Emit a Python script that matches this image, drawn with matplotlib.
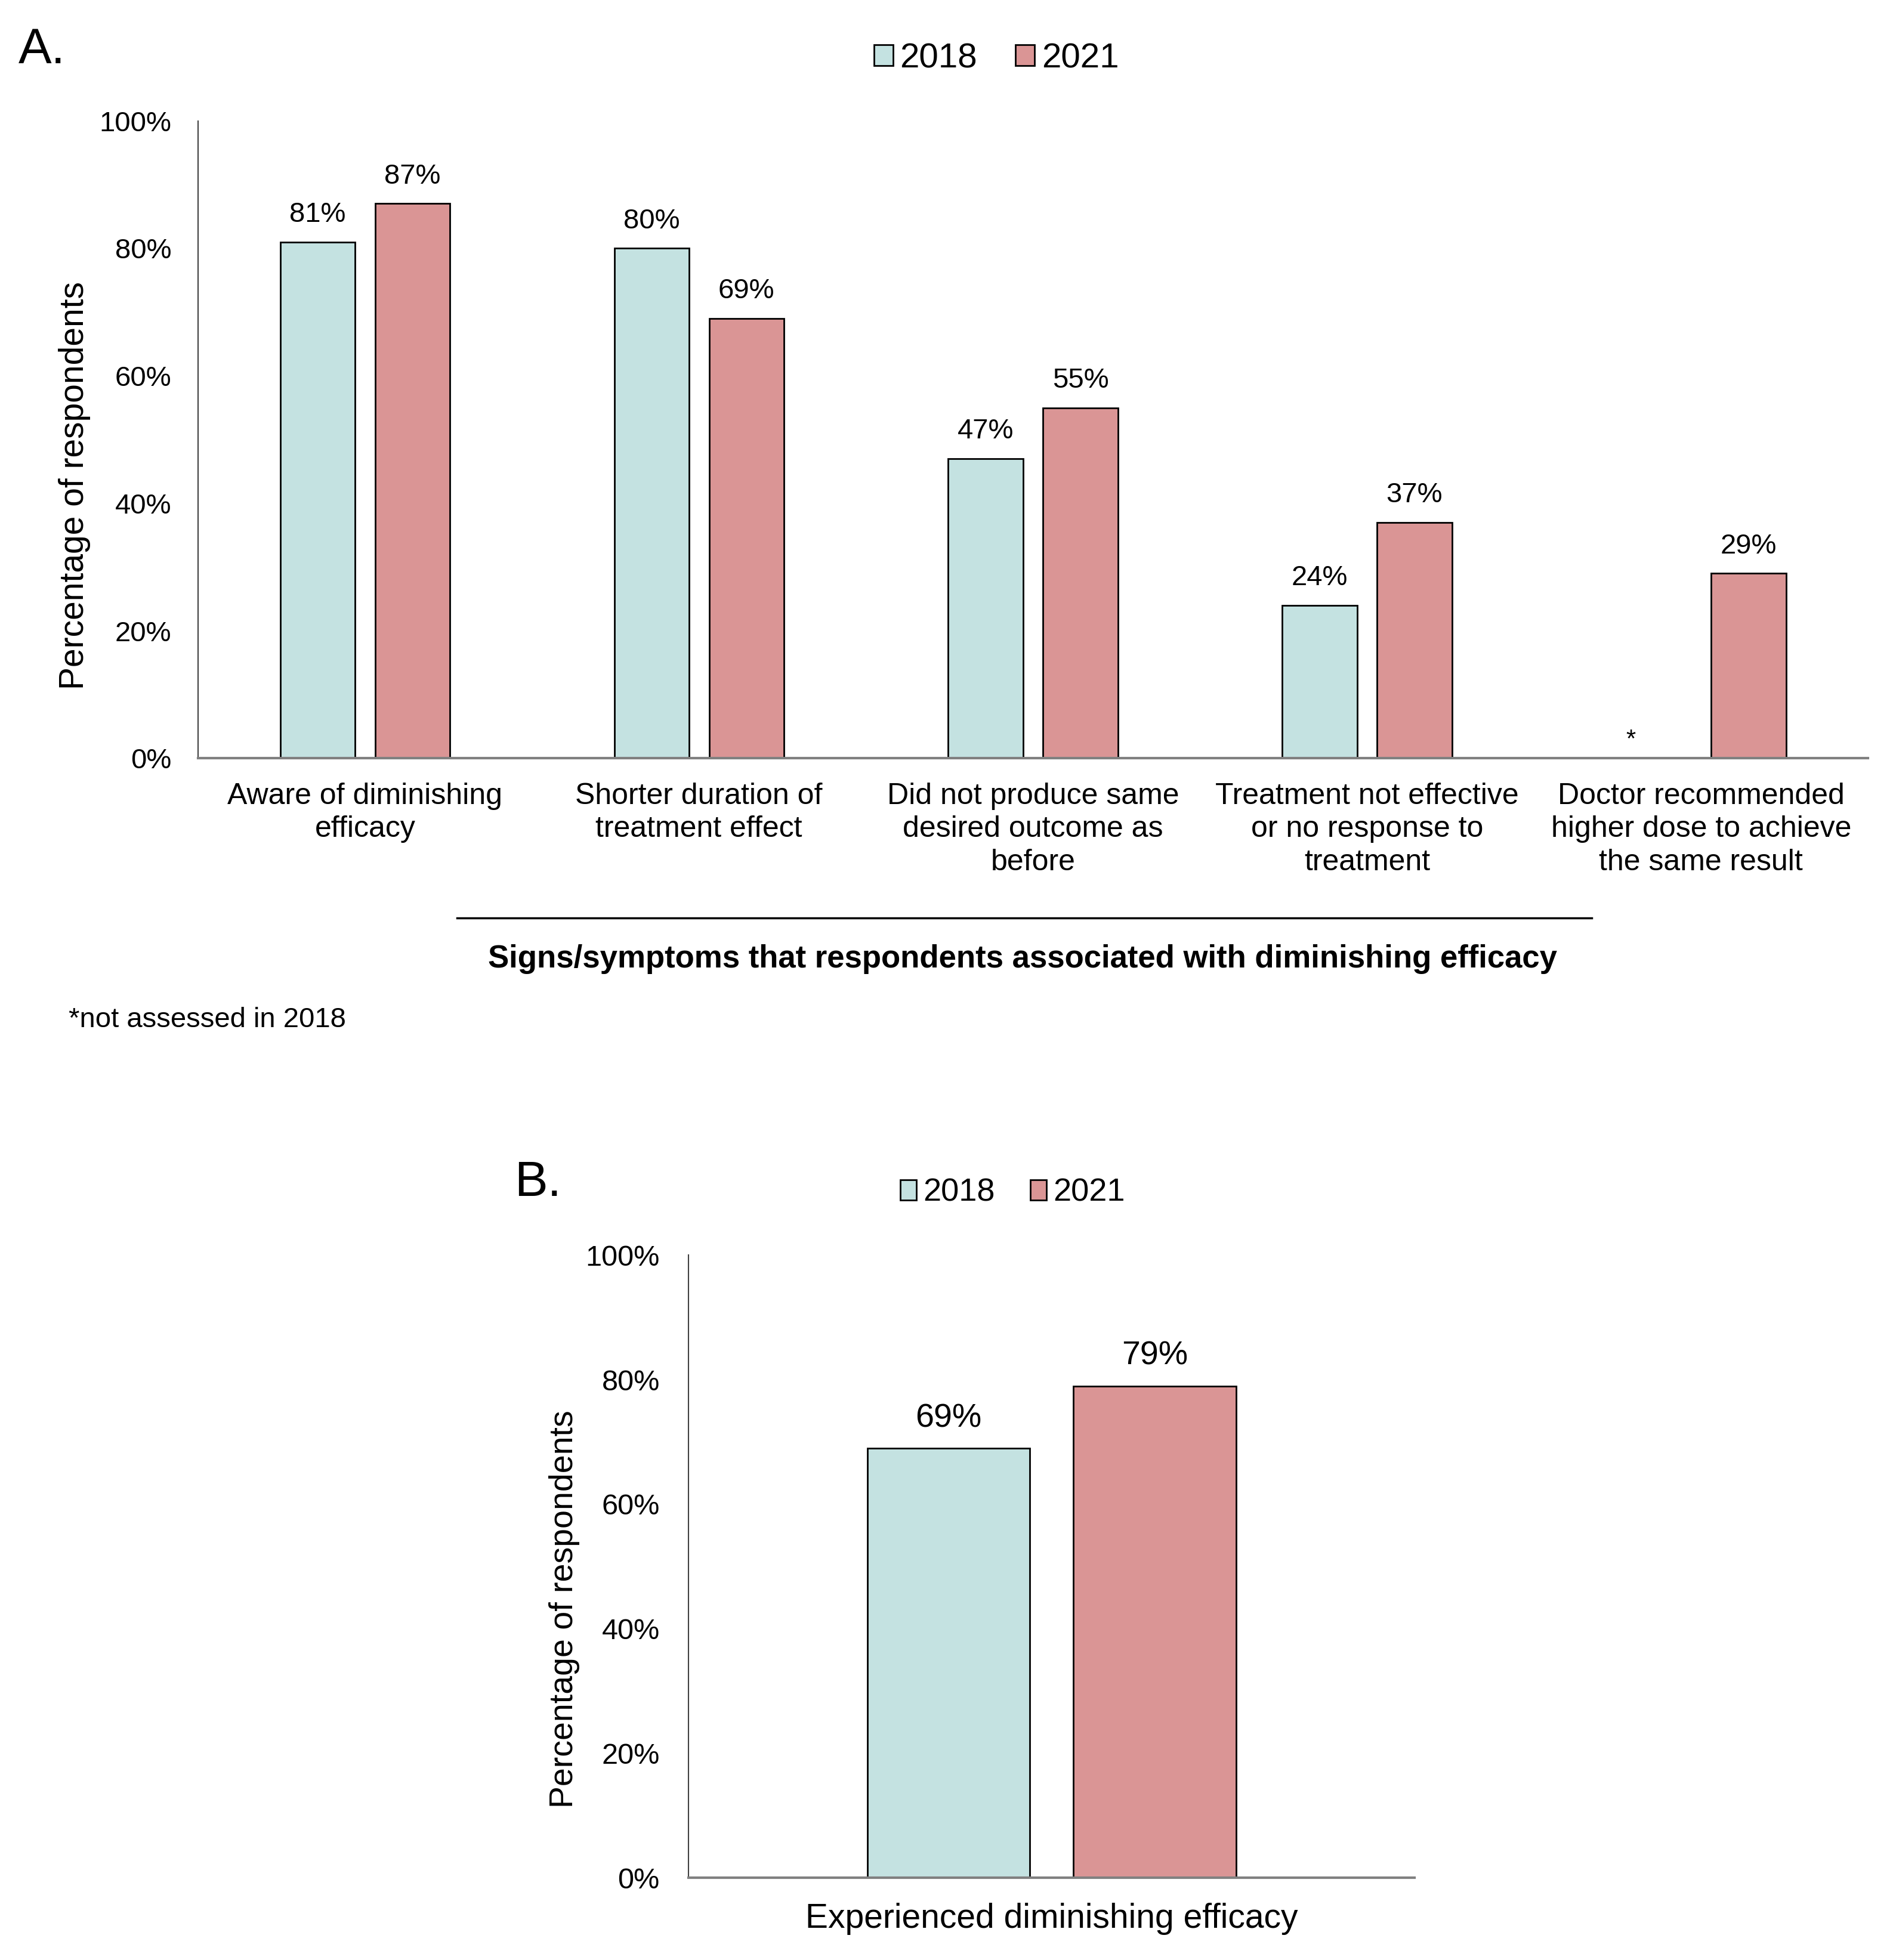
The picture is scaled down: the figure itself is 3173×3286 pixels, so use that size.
import matplotlib
matplotlib.use("Agg")
import matplotlib.pyplot as plt
from matplotlib.lines import Line2D
import numpy as np

plt.rcParams["font.family"] = ["Liberation Sans", "DejaVu Sans"]

# --- data ---
years = ["2018", "2021"]
categories_a = [
    "Aware of diminishing\nefficacy",
    "Shorter duration of\ntreatment effect",
    "Did not produce same\ndesired outcome as\nbefore",
    "Treatment not effective\nor no response to\ntreatment",
    "Doctor recommended\nhigher dose to achieve\nthe same result",
]
values_2018_a = [81, 80, 47, 24, None]  # last one not assessed in 2018
values_2021_a = [87, 69, 55, 37, 29]

categories_b = ["Experienced diminishing efficacy"]
values_2018_b = [69]
values_2021_b = [79]

colors = {"2018": "#C4E2E1", "2021": "#DA9595"}
yticks = [0, 20, 40, 60, 80, 100]

W, H = 1520, 1574  # layout measured on a 1520 px wide copy of the target
fig = plt.figure(figsize=(31.73, 32.86), dpi=100)


def style_axis(ax, tick_size, pad):
    ax.set_ylim(0, 100)
    ax.set_yticks(yticks)
    ax.set_yticklabels([f"{t}%" for t in yticks], fontsize=tick_size)
    ax.tick_params(axis="y", length=0, pad=pad)
    ax.tick_params(axis="x", length=0)
    ax.spines["top"].set_visible(False)
    ax.spines["right"].set_visible(False)
    ax.spines["left"].set_color("#404040")
    ax.spines["left"].set_linewidth(1.5)
    ax.spines["bottom"].set_color("#808080")
    ax.spines["bottom"].set_linewidth(3)
    ax.spines["bottom"].set_zorder(5)


def draw_bars(ax, n, v18, v21, label_size):
    x = np.arange(n)
    width, off = 0.224, 0.142
    h18 = [v if v is not None else 0 for v in v18]
    b1 = ax.bar(x - off, h18, width, color=colors["2018"], edgecolor="black",
                linewidth=2, label="2018")
    b2 = ax.bar(x + off, v21, width, color=colors["2021"], edgecolor="black",
                linewidth=2, label="2021")
    for xi, v in zip(x - off, v18):
        if v is not None:
            ax.annotate(f"{v}%", (xi, v), xytext=(0, 17), textcoords="offset points",
                        ha="center", va="bottom", fontsize=label_size)
    for xi, v in zip(x + off, v21):
        ax.annotate(f"{v}%", (xi, v), xytext=(0, 17), textcoords="offset points",
                    ha="center", va="bottom", fontsize=label_size)
    ax.set_xlim(-0.5, n - 0.5)
    return b1, b2


# --- Panel A ---
axA = fig.add_axes([159 / W, 1 - 609 / H, (1500 - 159) / W, (609 - 97) / H])
style_axis(axA, 34, 32)
hA = draw_bars(axA, len(categories_a), values_2018_a, values_2021_a, 34)
axA.set_xticks(np.arange(len(categories_a)))
axA.set_xticklabels(categories_a, fontsize=36, linespacing=1.27)
axA.tick_params(axis="x", pad=29)
axA.text(3.79, 1.0, "*", ha="center", va="bottom", fontsize=30)
axA.set_ylabel("Percentage of respondents", fontsize=41, va="center")
axA.yaxis.set_label_coords(-0.0738, 0.428)

fig.text(15 / W, 1 - 40 / H, "A.", fontsize=60, ha="left", va="center")
fig.legend(hA, years, loc="center", bbox_to_anchor=(800 / W, 1 - 47 / H), ncol=2,
           frameon=False, fontsize=42, handlelength=0.55, handleheight=0.55,
           handletextpad=0.2, columnspacing=1.1)

fig.add_artist(Line2D([367 / W, 1278 / W], [1 - 737 / H, 1 - 737 / H],
                      color="black", linewidth=2.5, transform=fig.transFigure))
fig.text(821 / W, 1 - 770 / H,
         "Signs/symptoms that respondents associated with diminishing efficacy",
         fontsize=38, fontweight="bold", ha="center", va="center")
fig.text(55 / W, 1 - 819 / H, "*not assessed in 2018", fontsize=34,
         ha="left", va="center")

# --- Panel B ---
axB = fig.add_axes([553 / W, 1 - 1508 / H, (1136 - 553) / W, (1508 - 1008) / H])
style_axis(axB, 35, 35)
hB = draw_bars(axB, len(categories_b), values_2018_b, values_2021_b, 40)
axB.set_xticks(np.arange(len(categories_b)))
axB.set_xticklabels(categories_b, fontsize=41)
axB.tick_params(axis="x", pad=30)
axB.set_ylabel("Percentage of respondents", fontsize=40, va="center")
axB.yaxis.set_label_coords(-0.1715, 0.432)

fig.text(413 / W, 1 - 950 / H, "B.", fontsize=60, ha="left", va="center")
fig.legend(hB, years, loc="center", bbox_to_anchor=(813 / W, 1 - 958 / H), ncol=2,
           frameon=False, fontsize=39, handlelength=0.5, handleheight=0.6,
           handletextpad=0.2, columnspacing=1.1)

fig.savefig("out.png", dpi=100)
plt.close(fig)
